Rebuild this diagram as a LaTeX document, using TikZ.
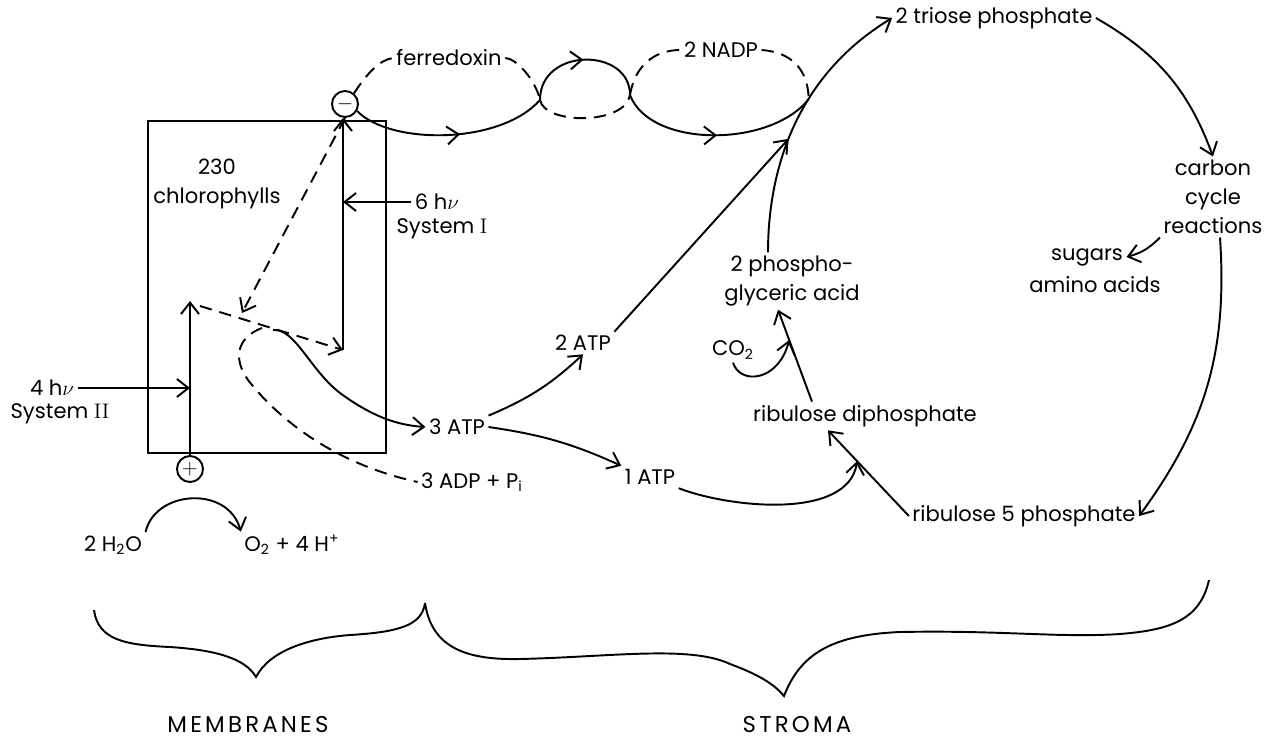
\documentclass[tikz,border=0pt]{standalone}
\usepackage{fontspec}
\setsansfont{Poppins}
\usetikzlibrary{arrows.meta,decorations.markings}

\begin{document}
\begin{tikzpicture}[x=0.02cm, y=-0.02cm, line width=1.1pt, >={Straight Barb[length=2.3mm,width=3.6mm]},
	every node/.style={font=\sffamily\fontsize{12}{16.5}\selectfont, inner sep=1.5pt},
	sgn/.style={draw, circle, minimum size=5.2mm, inner sep=0pt},
	dashln/.style={dash pattern=on 7pt off 4.5pt},
	caps/.style={font=\sffamily\fontsize{13}{16}\selectfont\addfontfeatures{LetterSpace=14}},
	midarr/.style={postaction={decorate}, decoration={markings, mark=at position #1 with {\arrow{>}}}}, midarr/.default=0.5]
	\useasboundingbox (0,0) rectangle (1279,751);
	\node[draw, minimum width=4.76cm, minimum height=6.64cm] (box) at (267,287) {};
	\node[align=center] (chl) at (217,184) {230\\chlorophylls};
	\node[sgn] (minus) at (345,104) {$-$}; \node[sgn] (plus) at (190,469) {$+$};
	\node (hv4) at (52,388) {4 h$\nu$}; \node (sys2) at (60,414) {System {\rmfamily II}};
	\node (hv6) at (437,202) {6 h$\nu$}; \node (sys1) at (442,229) {System {\rmfamily I}};
	\node (fer) at (449,58) {ferredoxin}; \node (nadp) at (721,50) {2 NADP};
	\node (tp) at (994,18) {2 triose phosphate};
	\node[align=center] (ccr) at (1213,197) {carbon\\cycle\\reactions};
	\node (sug) at (1087,257) {sugars}; \node (ami) at (1095,285) {amino acids};
	\node[align=center] (pga) at (792,281) {2 phospho-\\glyceric acid};
	\node (co2) at (733,350) {CO\textsubscript{2}};
	\node (rdp) at (865,416) {ribulose diphosphate}; \node (r5p) at (1024,516) {ribulose 5 phosphate};
	\node (atp2) at (583,343) {2 ATP}; \node (atp3) at (457,427) {3 ATP}; \node (atp1) at (650,477) {1 ATP};
	\node (adp) at (472,482) {3 ADP + P\textsubscript{i}};
	\node (h2o) at (113,545) {2 H\textsubscript{2}O}; \node (o2) at (292,545) {O\textsubscript{2} + 4 H\textsuperscript{+}};
	\node[caps] (mem) at (248,725) {MEMBRANES}; \node[caps] (str) at (797,725) {STROMA};
	\coordinate (t2) at (190,301); \coordinate (p2) at (190,388); \coordinate (b1) at (343,350); \coordinate (p1) at (343,202);
	\coordinate (x1) at (242,313); \coordinate (d2) at (200,306); \coordinate (s0) at (273,330); \coordinate (s1) at (262,328);
	\coordinate (j1) at (540,100); \coordinate (j2) at (630,95);
	\draw[->] ([xshift=-0.48cm]pga.north) .. controls (768,180) and (790,80) .. (tp.west) coordinate[pos=0.47] (m2) coordinate[pos=0.63] (m4);
	\draw[->] ([xshift=-1.06cm]rdp.north) -- ([xshift=-0.28cm]pga.south) coordinate[pos=0.67] (m3);
	\draw[->] (r5p.west) -- ([xshift=-0.74cm]rdp.south) coordinate[pos=0.64] (m1);
	\draw[->] (tp.east) to[bend left=20] (ccr.north);
	\draw[->] (ccr.south west) to[bend left=15] (sug.east);
	\draw[->] ([xshift=0.14cm]ccr.south) to[bend left=20] (r5p.east);
	\draw[->] (co2.south) .. controls (740,385) and (778,382) .. (m3);
	\draw[->] (atp3.north east) to[bend right=10] (atp2.south);
	\draw[->] (atp2.north east) -- (m2);
	\draw[->] (atp3.east) to[bend left=8] (atp1.north west);
	\draw[->] (atp1.south east) .. controls (730,508) and (848,520) .. (m1);
	\draw[->] (plus) -- (t2);
	\draw[->] (hv4) -- (p2);
	\draw[->] (b1) -- (b1 |- minus.south);
	\draw[->] (hv6) -- (p1);
	\draw[dashln,->] (minus.south) -- (x1);
	\draw[dashln,->] (d2) -- (b1);
	\draw[->] (s0) .. controls (295,328) and (310,370) .. (340,393) .. controls (370,415) and (395,425) .. (atp3.west);
	\draw[dashln] (s1) .. controls (235,338) and (232,362) .. (252,385) .. controls (285,425) and (340,465) .. (adp.west);
	\draw[dashln] (minus.50) .. controls (368,72) and (380,60) .. (fer.west);
	\draw[dashln] (fer.east) .. controls (515,58) and (535,78) .. (j1);
	\draw[midarr=0.55] (minus.-30) .. controls (390,145) and (500,145) .. (j1);
	\draw[midarr] (j1) .. controls (540,47) and (630,47) .. (j2);
	\draw[dashln] (j1) .. controls (545,125) and (625,125) .. (j2);
	\draw[dashln] (j2) .. controls (635,65) and (655,50) .. (nadp.west);
	\draw[dashln] (nadp.east) .. controls (790,52) and (808,68) .. (m4);
	\draw[midarr] (j2) .. controls (650,148) and (770,148) .. (m4);
	\draw[->] (h2o.north east) .. controls (155,490) and (228,485) .. (o2.north west);
	\draw (94,610) .. controls (98,640) and (125,645) .. (170,647) .. controls (215,650) and (245,658) .. (256,677)
		.. controls (270,650) and (310,638) .. (350,635) .. controls (400,632) and (422,625) .. (425,603);
	\draw (425,603) .. controls (432,650) and (470,660) .. (520,659) .. controls (610,657) and (690,645) .. (730,664)
		.. controls (760,675) and (775,685) .. (784,696) .. controls (800,655) and (830,635) .. (900,632)
		.. controls (1000,630) and (1060,638) .. (1120,634) .. controls (1170,630) and (1200,620) .. (1209,580);
\end{tikzpicture}
\end{document}
